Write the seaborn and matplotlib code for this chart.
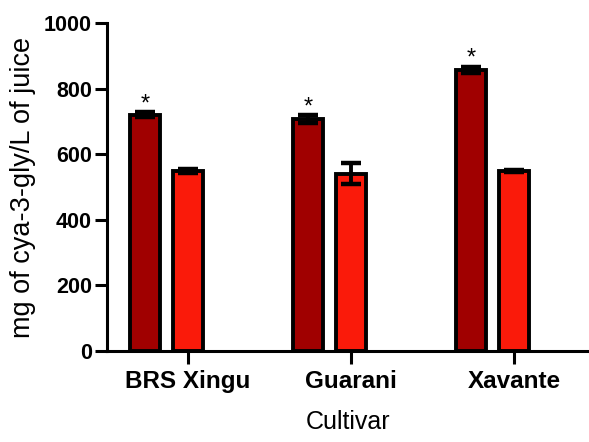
import matplotlib
matplotlib.use("Agg")
import matplotlib.pyplot as plt
import seaborn as sns
import pandas as pd

cultivars = ["BRS Xingu", "Guarani", "Xavante"]
groups = ["A", "B"]
values_a = [720, 708, 858]
errors_a = [8, 12, 9]
values_b = [548, 540, 550]
errors_b = [6, 32, 3]
significant = [True, True, True]

colors = ["#A00000", "#FA1A0A"]

sns.set_style("ticks")
plt.rcParams["font.family"] = ["Liberation Sans", "DejaVu Sans"]
plt.rcParams["text.color"] = "black"
plt.rcParams["axes.labelcolor"] = "black"
plt.rcParams["xtick.color"] = "black"
plt.rcParams["ytick.color"] = "black"

df = pd.DataFrame({
    "Cultivar": cultivars * 2,
    "group": [groups[0]] * 3 + [groups[1]] * 3,
    "value": values_a + values_b,
})

fig = plt.figure(figsize=(5.89, 4.42), dpi=100)
ax = fig.add_axes([0.182, 0.206, 0.818, 0.742])

sns.barplot(data=df, x="Cultivar", y="value", hue="group", order=cultivars,
            hue_order=groups, palette=colors, saturation=1, width=0.528,
            gap=0.3, edgecolor="black", linewidth=2.8, errorbar=None,
            legend=False, ax=ax, zorder=2)

bars = sorted(ax.patches, key=lambda p: p.get_x())
centers = [p.get_x() + p.get_width() / 2 for p in bars]
a_x = centers[0::2]
b_x = centers[1::2]

ax.errorbar(a_x, values_a, yerr=errors_a, fmt="none", ecolor="black",
            elinewidth=2.8, capsize=7, capthick=3.2, zorder=3)
ax.errorbar(b_x, values_b, yerr=errors_b, fmt="none", ecolor="black",
            elinewidth=2.8, capsize=7, capthick=3.2, zorder=3)

for x, v, e, s in zip(a_x, values_a, errors_a, significant):
    if s:
        ax.text(x, v + e - 10, "*", ha="center", va="bottom", fontsize=17,
                color="black")

ax.set_ylim(0, 1000)
ax.set_xlim(-0.365, 2.592)
ax.set_yticks([0, 200, 400, 600, 800, 1000])
ax.set_xticks(b_x)
ax.set_xticklabels(cultivars, fontsize=17.5, fontweight="bold")
for lab in ax.get_yticklabels():
    lab.set_fontsize(15.5)
    lab.set_fontweight("bold")

ax.tick_params(axis="y", length=9, width=2.2, pad=2)
ax.tick_params(axis="x", length=9, width=2.2, pad=5)

for side in ["left", "bottom"]:
    ax.spines[side].set_linewidth(2.2)
    ax.spines[side].set_color("black")
sns.despine(ax=ax, top=True, right=True)

ax.set_xlabel("Cultivar", fontsize=18, labelpad=12)
ax.set_ylabel("mg of cya-3-gly/L of juice", fontsize=19.5, labelpad=6)

fig.savefig("out.png", dpi=100)
